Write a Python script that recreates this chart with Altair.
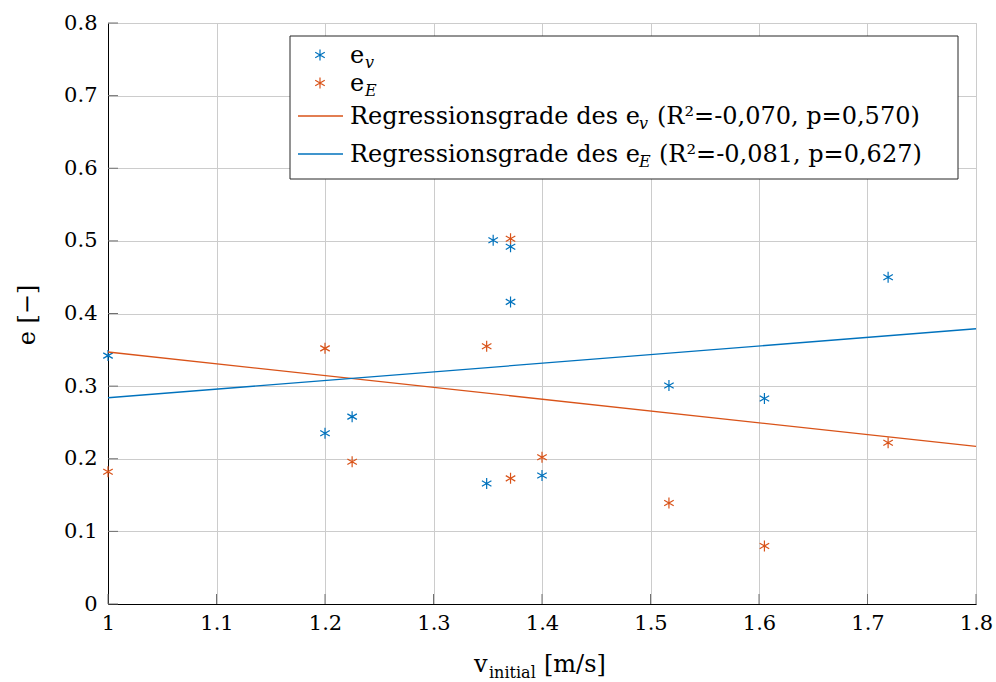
import altair as alt
import pandas as pd

# ---- data ----
v_ev = [1.0, 1.2, 1.225, 1.349, 1.355, 1.371, 1.371, 1.40, 1.517, 1.605, 1.719]
e_v = [0.342, 0.235, 0.258, 0.166, 0.501, 0.492, 0.416, 0.177, 0.301, 0.283, 0.450]
v_eE = [1.0, 1.2, 1.225, 1.349, 1.371, 1.371, 1.40, 1.517, 1.605, 1.719]
e_E = [0.182, 0.352, 0.196, 0.355, 0.503, 0.173, 0.202, 0.139, 0.080, 0.222]
reg_x = [1.0, 1.8]
reg_ev = [0.347, 0.217]
reg_eE = [0.284, 0.379]
x_ticks = [1.0, 1.1, 1.2, 1.3, 1.4, 1.5, 1.6, 1.7, 1.8]
y_ticks = [0.0, 0.1, 0.2, 0.3, 0.4, 0.5, 0.6, 0.7, 0.8]

BLUE = "#0072BD"
ORANGE = "#D95319"
FONT = "DejaVu Serif"
W, H = 868, 581
STAR = "M0,-1L0,1M-0.866,-0.5L0.866,0.5M-0.866,0.5L0.866,-0.5"

xs = alt.Scale(domain=[1.0, 1.8], nice=False, zero=False)
ys = alt.Scale(domain=[0.0, 0.8], nice=False, zero=False)
xaxis = alt.Axis(values=x_ticks, format=".1~f", title=None, grid=True, ticks=False,
                 domainColor="black", labelFont=FONT, labelFontSize=21, labelFlush=False,
                 labelColor="black", labelPadding=8, gridColor="#cccccc")
yaxis = alt.Axis(values=y_ticks, format=".1~f", title=None, grid=True, ticks=False,
                 domainColor="black", labelFont=FONT, labelFontSize=21, labelFlush=False,
                 labelColor="black", labelPadding=11, gridColor="#cccccc")
X = alt.X("x:Q", scale=xs, axis=xaxis)
Y = alt.Y("y:Q", scale=ys, axis=yaxis)

df_ev = pd.DataFrame({"x": v_ev, "y": e_v})
df_eE = pd.DataFrame({"x": v_eE, "y": e_E})
df_rv = pd.DataFrame({"x": reg_x, "y": reg_ev})
df_rE = pd.DataFrame({"x": reg_x, "y": reg_eE})

pts_v = alt.Chart(df_ev).mark_point(shape=STAR, size=121, filled=False,
                                    strokeWidth=1.2, color=BLUE, opacity=1).encode(x=X, y=Y)
pts_E = alt.Chart(df_eE).mark_point(shape=STAR, size=121, filled=False,
                                    strokeWidth=1.2, color=ORANGE, opacity=1).encode(x=X, y=Y)
line_v = alt.Chart(df_rv).mark_line(color=ORANGE, strokeWidth=1.3).encode(x=X, y=Y)
line_E = alt.Chart(df_rE).mark_line(color=BLUE, strokeWidth=1.3).encode(x=X, y=Y)

# inward tick marks
ytk = alt.Chart(pd.DataFrame({"y": y_ticks})).mark_rule(color="#707070", strokeWidth=1).encode(
    y=Y, x=alt.value(0), x2=alt.value(10))
xtk = alt.Chart(pd.DataFrame({"x": x_ticks})).mark_rule(color="#707070", strokeWidth=1).encode(
    x=X, y=alt.value(H), y2=alt.value(H - 10))

one = pd.DataFrame({"a": [0]})


def txt(s, x, y, size=24, style="normal", angle=0, align="left", baseline="alphabetic"):
    return alt.Chart(pd.DataFrame({"t": [s]})).mark_text(
        font=FONT, fontSize=size, fontStyle=style, align=align, baseline=baseline,
        angle=angle, color="black").encode(x=alt.value(x), y=alt.value(y), text="t:N")


# legend
box = alt.Chart(one).mark_rect(fill="white", stroke="#262626", strokeWidth=1).encode(
    x=alt.value(182), x2=alt.value(850), y=alt.value(13), y2=alt.value(156))
lg_pv = alt.Chart(one).mark_point(shape=STAR, size=121, filled=False, strokeWidth=1.2,
                                  color=BLUE, opacity=1).encode(x=alt.value(212), y=alt.value(32))
lg_pE = alt.Chart(one).mark_point(shape=STAR, size=121, filled=False, strokeWidth=1.2,
                                  color=ORANGE, opacity=1).encode(x=alt.value(212), y=alt.value(60))
lg_lv = alt.Chart(one).mark_rule(color=ORANGE, strokeWidth=1.3).encode(
    x=alt.value(190), x2=alt.value(235), y=alt.value(93))
lg_lE = alt.Chart(one).mark_rule(color=BLUE, strokeWidth=1.3).encode(
    x=alt.value(190), x2=alt.value(235), y=alt.value(131))

TX = 242
legend_texts = [
    txt("e", TX, 40), txt("v", TX + 15, 45, size=16, style="italic"),
    txt("e", TX, 68), txt("E", TX + 15, 73, size=16, style="italic"),
    txt("Regressionsgrade des e", TX, 101), txt("v", 531, 106, size=16, style="italic"),
    txt("(R²=-0,070, p=0,570)", 549, 101),
    txt("Regressionsgrade des e", TX, 139), txt("E", 531, 144, size=16, style="italic"),
    txt("(R²=-0,081, p=0,627)", 551, 139),
]

# axis titles
x_title = [
    txt("v", 366, 649), txt("initial", 381, 655, size=16),
    txt("[m/s]", 436, 649),
]
y_title = [txt("e [−]", -80, 292, angle=270, align="center", baseline="middle")]

chart = alt.layer(
    pts_v, pts_E, line_v, line_E, ytk, xtk, box, lg_pv, lg_pE, lg_lv, lg_lE,
    *legend_texts, *x_title, *y_title
).properties(
    width=W, height=H,
    padding={"left": 108, "top": 23, "right": 20, "bottom": 78},
    autosize=alt.AutoSizeParams(type="none"),
).configure_view(stroke="#cccccc", strokeWidth=1)

chart.save("out.html", embed_options={"renderer": "svg", "actions": False})
